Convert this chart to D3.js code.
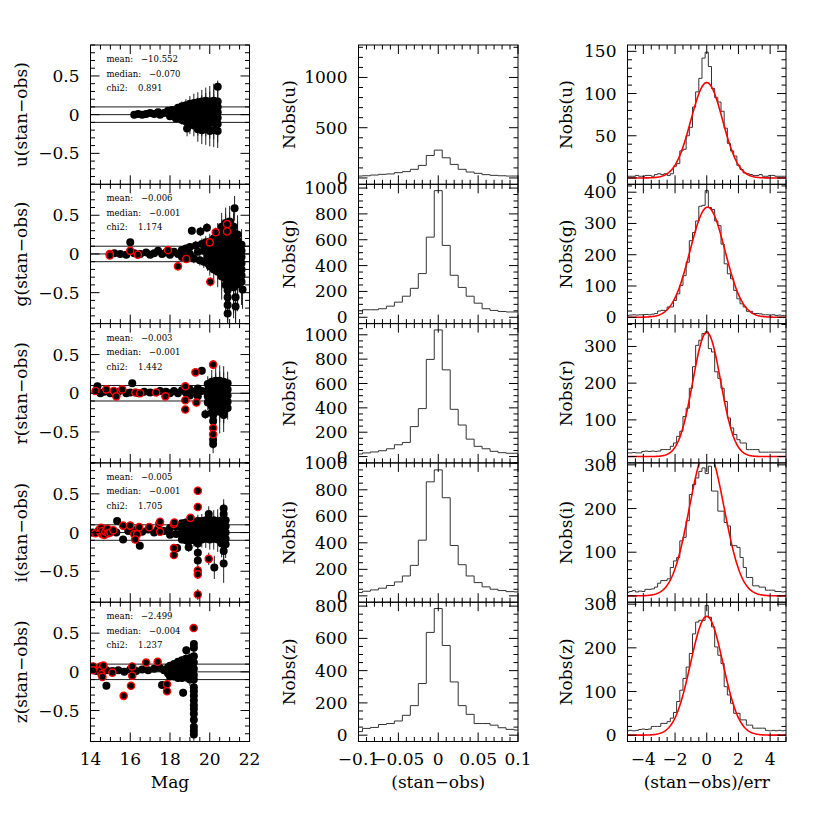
<!DOCTYPE html>
<html><head><meta charset="utf-8">
<script src="https://cdn.jsdelivr.net/npm/d3@7"></script>
<style>body{margin:0;background:#fff}svg{display:block}</style>
</head><body><svg id="c" width="830" height="830"></svg>
<script>
// ---------------- data ----------------
const bands = ["u","g","r","i","z"];
const statMean   = ["−10.552","−0.006","−0.003","−0.005","−2.499"];
const statMedian = ["−0.070","−0.001","−0.001","−0.001","−0.004"];
const statChi2   = ["0.891","1.174","1.442","1.705","1.237"];

// left column: [mag, stan-obs, err]
const uPts = [[16.2,0,0.01],[16.4,0.01,0.01],[16.6,0,0.01],[16.8,0.01,0.01],[17.0,0.02,0.01],[17.2,0.01,0.015],[17.4,0.03,0.015],[17.5,0,0.02],[17.7,0.02,0.02],[17.9,0.05,0.02],[18.0,-0.02,0.03],[18.1,0.06,0.03],[18.2,0.01,0.03],[18.3,-0.05,0.04],[18.4,0.09,0.04],[18.5,0.02,0.05],[18.6,-0.07,0.06],[18.6,0.11,0.06],[18.7,0.03,0.06],[18.86,-0.18,0.1],
[18.8,0.12,0.08],[18.8,0.05,0.08],[18.8,-0.03,0.08],[18.8,-0.09,0.1],
[19.0,0.14,0.1],[19.0,0.07,0.1],[19.0,0,0.1],[19.0,-0.07,0.1],[19.0,-0.13,0.12],
[19.2,0.15,0.12],[19.2,0.08,0.12],[19.2,0.01,0.12],[19.2,-0.06,0.12],[19.2,-0.14,0.14],
[19.4,0.16,0.13],[19.4,0.09,0.13],[19.4,0.02,0.13],[19.4,-0.05,0.13],[19.4,-0.12,0.15],[19.4,-0.19,0.16],
[19.6,0.17,0.15],[19.6,0.1,0.15],[19.6,0.03,0.15],[19.6,-0.04,0.15],[19.6,-0.11,0.17],[19.6,-0.2,0.18],
[19.8,0.18,0.17],[19.8,0.11,0.17],[19.8,0.04,0.17],[19.8,-0.03,0.17],[19.8,-0.1,0.18],[19.8,-0.19,0.2],
[20.0,0.17,0.2],[20.0,0.1,0.2],[20.0,0.03,0.2],[20.0,-0.04,0.2],[20.0,-0.11,0.2],[20.0,-0.21,0.2],
[20.2,0.18,0.22],[20.2,0.11,0.22],[20.2,0.04,0.22],[20.2,-0.03,0.22],[20.2,-0.1,0.22],[20.2,-0.2,0.22],
[20.4,0.36,0.08],[20.4,0.17,0.25],[20.4,0.1,0.24],[20.4,0.03,0.24],[20.4,-0.04,0.24],[20.4,-0.12,0.24],[20.4,-0.21,0.22]];
const uRed = [];

const gPts = [[15.2,0.01,0.01],[15.5,0,0.01],[15.8,-0.01,0.01],[16.0,0.15,0.02],[16.2,0.01,0.01],[16.5,0,0.01],[16.8,0.02,0.01],[17.0,-0.01,0.015],[17.2,0.01,0.015],[17.4,0.04,0.02],[17.6,0,0.02],[17.8,0.02,0.02],[18.0,-0.01,0.02],[18.2,0.03,0.02],[18.4,0,0.03],[18.6,0.05,0.03],[18.6,-0.04,0.03],[18.8,0.07,0.04],[18.8,-0.03,0.04],[19.0,0.09,0.05],[19.0,0,0.05],[19.1,0.3,0.05],[19.2,-0.06,0.06],[19.3,0.11,0.06],[19.4,0.03,0.06],[19.53,0.29,0.06],[19.5,-0.08,0.07],[19.6,0.13,0.07],[19.7,0.04,0.07],[19.7,-0.1,0.08],[19.86,0.34,0.06],[19.8,0.15,0.08],[19.9,0.06,0.08],[19.9,-0.04,0.09],[19.9,-0.12,0.1],
[20.0,0.16,0.1],[20.0,0.08,0.1],[20.0,0,0.1],[20.0,-0.08,0.1],[20.0,-0.16,0.12],
[20.2,0.2,0.12],[20.2,0.12,0.12],[20.2,0.04,0.12],[20.2,-0.04,0.12],[20.2,-0.12,0.14],[20.2,-0.2,0.15],
[20.4,0.25,0.15],[20.4,0.17,0.15],[20.4,0.09,0.15],[20.4,0.01,0.15],[20.4,-0.07,0.15],[20.4,-0.15,0.18],[20.4,-0.23,0.2],
[20.6,0.35,0.18],[20.6,0.27,0.18],[20.6,0.19,0.18],[20.6,0.11,0.18],[20.6,0.03,0.18],[20.6,-0.05,0.2],[20.6,-0.13,0.2],[20.6,-0.21,0.25],[20.6,-0.29,0.3],
[20.8,0.4,0.2],[20.8,0.32,0.2],[20.8,0.24,0.2],[20.8,0.16,0.2],[20.8,0.08,0.2],[20.8,0,0.22],[20.8,-0.08,0.25],[20.8,-0.16,0.25],[20.8,-0.24,0.3],[20.8,-0.32,0.3],[20.8,-0.4,0.35],
[21.0,0.42,0.2],[21.0,0.34,0.2],[21.0,0.26,0.2],[21.0,0.18,0.2],[21.0,0.1,0.22],[21.0,0.02,0.22],[21.0,-0.06,0.25],[21.0,-0.14,0.28],[21.0,-0.22,0.3],[21.0,-0.3,0.35],[21.0,-0.38,0.4],
[21.2,0.35,0.25],[21.2,0.27,0.25],[21.2,0.19,0.25],[21.2,0.11,0.25],[21.2,0.03,0.25],[21.2,-0.05,0.28],[21.2,-0.13,0.3],[21.2,-0.21,0.3],[21.2,-0.29,0.35],[21.2,-0.37,0.4],[21.2,-0.43,0.4],
[21.4,0.25,0.25],[21.4,0.17,0.25],[21.4,0.09,0.25],[21.4,0.01,0.25],[21.4,-0.07,0.28],[21.4,-0.15,0.3],[21.4,-0.23,0.3],[21.4,-0.31,0.35],[21.4,-0.39,0.35],
[21.6,0.12,0.2],[21.6,0.04,0.2],[21.6,-0.04,0.2],[21.6,-0.12,0.22],[21.6,-0.2,0.25],[21.6,-0.28,0.25],[21.6,-0.36,0.3],
[20.9,-0.47,0.3],[20.9,-0.56,0.3],[20.9,-0.66,0.3],[20.9,-0.77,0.3],[21.25,0.59,0.16],[21.3,-0.56,0.35],[21.3,-0.68,0.35],[21.65,-0.46,0.25]];
const gRed = [[14.97,0,0.01],[14.97,-0.02,0.01],[16.0,0.04,0.01],[16.38,-0.01,0.01],[17.9,0.05,0.02],[18.4,-0.16,0.03],[18.82,-0.065,0.03],[20.0,0.15,0.05],[20.03,-0.36,0.06],[20.3,0.28,0.06],[20.87,0.386,0.08],[20.87,0.29,0.08]];

const rPts = [[14.35,0.09,0.01],[14.5,0,0.01],[14.7,0.02,0.01],[15.0,0,0.01],[15.4,0.02,0.01],[15.8,0,0.01],[16.1,0.13,0.015],[16.0,0.01,0.01],[16.4,0,0.01],[16.7,0.02,0.01],[17.0,0.01,0.015],[17.5,0.03,0.015],[17.8,0.02,0.02],[18.0,0,0.02],[18.2,0.03,0.02],[18.4,0,0.02],[18.6,0.04,0.03],[18.8,0.01,0.03],[19.0,0.05,0.03],[19.0,-0.03,0.03],[19.2,0.02,0.04],[19.4,0.06,0.04],[19.4,-0.04,0.04],[19.6,0.29,0.05],[19.6,0.03,0.05],[19.78,-0.27,0.06],
[19.9,0.12,0.1],[19.9,0.04,0.1],[19.9,-0.04,0.1],[19.9,-0.12,0.1],
[20.1,0.15,0.15],[20.1,0.07,0.15],[20.1,-0.01,0.15],[20.1,-0.09,0.15],[20.1,-0.17,0.18],[20.1,-0.25,0.2],
[20.3,0.16,0.18],[20.3,0.08,0.18],[20.3,0,0.18],[20.3,-0.08,0.18],[20.3,-0.16,0.2],[20.3,-0.24,0.25],
[20.5,0.16,0.2],[20.5,0.08,0.2],[20.5,0,0.2],[20.5,-0.08,0.2],[20.5,-0.16,0.22],[20.5,-0.24,0.28],
[20.7,0.15,0.2],[20.7,0.07,0.2],[20.7,-0.01,0.2],[20.7,-0.09,0.2],[20.7,-0.17,0.22],[20.7,-0.25,0.25],
[20.9,0.13,0.15],[20.9,0.05,0.15],[20.9,-0.03,0.15],[20.9,-0.11,0.15],[20.9,-0.19,0.15],
[20.17,-0.28,0.1],[20.17,-0.36,0.1],[20.17,-0.6,0.12],[20.17,-0.655,0.12],[20.7,-0.28,0.1]];
const rRed = [[14.25,0.03,0.01],[14.8,0.05,0.01],[15.17,0.03,0.01],[15.3,-0.04,0.01],[15.6,0.05,0.01],[16.26,0.01,0.01],[16.5,0,0.01],[17.3,0.01,0.015],[17.77,-0.04,0.02],[18.77,0.09,0.03],[18.77,-0.09,0.03],[18.77,-0.21,0.03],[19.28,0.27,0.04],[19.33,-0.12,0.04],[20.17,0.37,0.06],[20.17,-0.45,0.08],[20.17,-0.53,0.08]];

const iPts = [[14.1,0,0.01],[14.4,0.02,0.01],[14.7,-0.01,0.01],[15.0,0.01,0.01],[15.34,0.15,0.01],[15.3,0,0.01],[15.64,-0.09,0.01],[15.9,0.02,0.01],[16.2,0.03,0.01],[16.48,-0.17,0.015],[16.6,0.01,0.01],[16.9,0.04,0.015],[17.2,0,0.015],[17.4,0.05,0.015],[17.7,0.02,0.02],[18.0,0.06,0.02],[18.0,-0.03,0.02],[18.3,0.08,0.02],[18.3,-0.02,0.02],[18.36,-0.2,0.03],
[18.6,0.12,0.04],[18.6,0.04,0.04],[18.6,-0.04,0.04],[18.6,-0.09,0.05],
[18.8,0.13,0.05],[18.8,0.05,0.05],[18.8,-0.03,0.05],[18.8,-0.1,0.06],[18.94,-0.19,0.06],
[19.0,0.14,0.06],[19.0,0.06,0.06],[19.0,-0.02,0.06],[19.0,-0.1,0.07],
[19.2,0.14,0.07],[19.2,0.06,0.07],[19.2,-0.02,0.07],[19.2,-0.1,0.08],
[19.4,0.15,0.08],[19.4,0.07,0.08],[19.4,-0.01,0.08],[19.4,-0.09,0.09],[19.4,-0.14,0.1],[19.4,-0.26,0.12],[19.4,-0.36,0.12],
[19.6,0.15,0.09],[19.6,0.07,0.09],[19.6,-0.01,0.09],[19.6,-0.09,0.1],
[19.8,0.16,0.1],[19.8,0.08,0.1],[19.8,0,0.1],[19.8,-0.08,0.12],[19.95,0.24,0.1],
[20.0,0.15,0.12],[20.0,0.07,0.12],[20.0,-0.01,0.12],[20.0,-0.09,0.13],
[20.2,0.16,0.13],[20.2,0.08,0.13],[20.2,0,0.13],[20.2,-0.08,0.14],[20.23,-0.45,0.15],
[20.4,0.15,0.15],[20.4,0.07,0.15],[20.4,-0.01,0.15],[20.4,-0.09,0.16],
[20.6,0.16,0.16],[20.6,0.08,0.16],[20.6,0,0.16],[20.6,-0.08,0.17],[20.6,-0.14,0.18],
[20.7,0.31,0.12],[20.7,0.24,0.14],[20.7,-0.24,0.2],[20.7,-0.4,0.25],
[20.8,0.16,0.16],[20.8,0.08,0.16],[20.8,0,0.16],[20.8,-0.08,0.17],[20.8,-0.15,0.18]];
const iRed = [[14.25,-0.01,0.01],[14.45,0.04,0.01],[14.5,0,0.01],[14.54,0.06,0.01],[14.6,-0.02,0.01],[14.6,0.02,0.01],[14.7,-0.03,0.01],[14.75,0.01,0.01],[14.85,0.05,0.01],[14.9,-0.01,0.01],[15.0,0,0.01],[15.15,0.03,0.01],[15.64,0.09,0.01],[16.0,0.09,0.01],[16.2,-0.02,0.01],[16.35,-0.02,0.01],[16.25,-0.09,0.01],[16.45,0.07,0.01],[16.96,0.07,0.015],[17.45,0.11,0.015],[17.5,0.14,0.015],[17.5,0.01,0.015],[18.19,0.11,0.02],[18.22,0.13,0.02],[18.2,-0.2,0.02],[18.2,-0.29,0.02],[19.03,0.19,0.04],[19.4,0.54,0.05],[19.4,0.33,0.05],[19.4,-0.49,0.06],[19.4,-0.54,0.06],[19.4,-0.8,0.07],[19.95,-0.34,0.08]];

const zPts = [[14.1,0.03,0.01],[14.3,0.01,0.01],[14.5,0,0.01],[14.8,-0.18,0.02],[14.8,0.02,0.01],[15.1,0.01,0.01],[15.4,0.02,0.01],[15.7,0,0.01],[16.0,0.03,0.01],[16.3,0.01,0.01],[16.6,0.03,0.015],[16.9,0.02,0.015],[17.2,0.04,0.015],[17.5,0.05,0.02],[17.6,-0.17,0.03],[17.7,0.02,0.02],[17.9,0.06,0.02],[17.9,-0.02,0.02],
[18.0,0.08,0.03],[18.0,0,0.03],[18.0,-0.06,0.03],
[18.2,0.1,0.03],[18.2,0.02,0.03],[18.2,-0.06,0.04],
[18.4,0.13,0.04],[18.4,0.05,0.04],[18.4,-0.03,0.04],[18.4,-0.08,0.05],
[18.6,0.15,0.05],[18.6,0.07,0.05],[18.6,-0.01,0.05],[18.6,-0.08,0.05],[18.66,-0.27,0.05],
[18.8,0.17,0.06],[18.8,0.09,0.06],[18.8,0.01,0.06],[18.8,-0.07,0.06],[18.82,0.28,0.05],
[19.0,0.18,0.07],[19.0,0.1,0.07],[19.0,0.02,0.07],[19.0,-0.06,0.07],[19.0,-0.1,0.08],
[19.2,0.2,0.08],[19.2,0.12,0.08],[19.2,0.04,0.08],[19.2,-0.04,0.08],[19.2,-0.1,0.08],
[19.2,0.36,0.05],[19.2,0.31,0.05],[19.2,-0.2,0.06],[19.2,-0.25,0.06],[19.2,-0.31,0.06],[19.2,-0.37,0.06],[19.2,-0.43,0.06],[19.2,-0.48,0.06],[19.2,-0.54,0.06],[19.2,-0.62,0.07],[19.2,-0.71,0.07],[19.2,-0.76,0.07],[19.2,-0.81,0.08]];
const zRed = [[14.13,0.07,0.01],[14.13,0.02,0.01],[14.5,0.07,0.01],[14.5,0.02,0.01],[14.55,-0.03,0.01],[14.6,-0.065,0.01],[14.65,0.08,0.01],[15.1,-0.01,0.01],[16.1,0.07,0.01],[16.1,-0.05,0.01],[15.67,-0.31,0.02],[16.04,-0.18,0.02],[16.8,0.12,0.015],[17.38,0.13,0.02],[17.85,-0.16,0.02],[17.85,-0.25,0.02],[19.19,0.566,0.04]];

const leftPts = [uPts,gPts,rPts,iPts,zPts];
const leftRed = [uRed,gRed,rRed,iRed,zRed];
const refLines = [0, 0.1, -0.1];

// middle column histograms of (stan-obs), bin width 0.01
const midBins = [-0.1,-0.09,-0.08,-0.07,-0.06,-0.05,-0.04,-0.03,-0.02,-0.01,0,0.01,0.02,0.03,0.04,0.05,0.06,0.07,0.08,0.09,0.1];
const uMid = [19,22,29,36,40,53,63,86,125,224,277,201,135,86,59,46,33,26,22,19,19];
const gMid = [28,58,58,66,86,117,163,224,338,620,980,556,325,231,163,109,66,53,45,41,41];
const rMid = [21,30,38,48,64,97,116,246,394,798,1040,712,388,259,143,84,64,43,32,27,27];
const iMid = [25,35,45,58,78,105,150,230,420,860,950,740,380,235,150,100,68,50,40,32,30];
const zMid = [22,42,48,66,72,88,123,183,320,637,785,556,330,183,129,72,72,62,46,36,32];
const midCounts = [uMid,gMid,rMid,iMid,zMid];
const midMax = [1260,980,1040,955,785];

// right column histograms of (stan-obs)/err, bin width 0.2
const rightBins = [-5,-4.8,-4.6,-4.4,-4.2,-4,-3.8,-3.6,-3.4,-3.2,-3,-2.8,-2.6,-2.4,-2.2,-2,-1.8,-1.6,-1.4,-1.2,-1,-0.8,-0.6,-0.4,-0.2,0,0.2,0.4,0.6,0.8,1,1.2,1.4,1.6,1.8,2,2.2,2.4,2.6,2.8,3,3.2,3.4,3.6,3.8,4,4.2,4.4,4.6,4.8,5];
const uRight = [2,2,2,3,2,2,3,3,2,4,5,4,5,3,5,14,17,32,34,50,60,84,102,118,142,149,132,106,95,90,79,59,41,32,26,15,10,6,5,4,3,3,4,2,2,3,3,2,2,2,2];
const gRight = [6,7,8,7,8,8,9,8,10,12,20,22,22,33,33,54,75,102,133,176,245,271,308,355,358,405,351,345,308,293,234,171,139,123,86,59,43,33,19,19,12,12,11,8,8,7,8,6,7,6,6];
const rRight = [10,10,11,10,10,14,15,14,15,14,15,19,19,19,28,37,55,69,109,132,186,245,303,317,335,340,294,285,231,213,186,150,105,78,60,46,37,37,19,19,19,19,12,12,12,12,12,12,12,12,12];
const iRight = [8,10,12,9,11,10,15,15,16,20,29,35,35,39,65,80,88,126,134,172,232,255,270,285,293,280,297,240,240,194,194,168,160,115,115,111,88,65,42,42,23,23,20,20,13,13,13,10,10,9,10];
const zRight = [10,11,10,11,13,14,13,14,20,20,20,27,27,31,39,52,77,103,130,156,187,232,259,263,263,297,270,248,202,183,164,111,92,73,50,50,35,35,23,23,16,16,16,16,11,10,11,10,11,10,11];
const rightCounts = [uRight,gRight,rRight,iRight,zRight];
const rightMax = [150,405,345,290,290];
// Gaussian fits
const fitAmp = [113,352,338,335,272];
const fitMu = [0,0.05,0,0,0];
const fitSigma = [1.0,1.1,0.88,1.09,1.02];

const leftTicks = ["−0.5","0","0.5"]; const leftTickVals = [-0.5,0,0.5];
const magTicks = [14,16,18,20,22];
const midXTicks = [-0.1,-0.05,0,0.05,0.1]; const midXLabels = ["−0.1","−0.05","0","0.05","0.1"];
const rightXTicks = [-4,-2,0,2,4]; const rightXLabels = ["−4","−2","0","2","4"];
const xTitles = ["Mag","(stan−obs)","(stan−obs)/err"];

// ---------------- drawing ----------------
const svg = d3.select("#c");
const FONT = "DejaVu Serif";
const colX = [[90.5,249.5],[358.5,518],[627.5,786]];
const TOP = 45, PH = 139.3;
const MAJ = 9, MIN = 4.5;
const fmtNum = v => (v < 0 ? "−" : "") + Math.abs(v);

function stepVals(dom, step){
  const out=[]; const a=Math.min(dom[0],dom[1]), b=Math.max(dom[0],dom[1]);
  for(let k=Math.ceil(a/step-1e-9); k*step<=b+1e-9; k++) out.push(+(k*step).toFixed(6));
  return out;
}
function isMult(v, step){ const q=v/step; return Math.abs(q-Math.round(q))<1e-6; }

function axesFrame(g, xs, ys, xMaj, xMin, yMaj, yMin){
  const [x0,x1]=xs.range(), [yb,yt]=ys.range();
  let p = d3.path();
  stepVals(xs.domain(), xMin).forEach(v=>{
    const x=xs(v), L=isMult(v,xMaj)?MAJ:MIN;
    if (x<x0-0.1||x>x1+0.1) return;
    p.moveTo(x,yb); p.lineTo(x,yb-L); p.moveTo(x,yt); p.lineTo(x,yt+L);
  });
  stepVals(ys.domain(), yMin).forEach(v=>{
    const y=ys(v), L=isMult(v,yMaj)?MAJ:MIN;
    p.moveTo(x0,y); p.lineTo(x0+L,y); p.moveTo(x1,y); p.lineTo(x1-L,y);
  });
  g.append("path").attr("d",p.toString()).attr("stroke","#000").attr("stroke-width",1).attr("fill","none");
  g.append("rect").attr("x",x0).attr("y",yt).attr("width",x1-x0).attr("height",yb-yt)
    .attr("fill","none").attr("stroke","#000").attr("stroke-width",1);
}
function yLabels(g, ys, x0, vals, labels){
  vals.forEach((v,k)=>{
    g.append("text").attr("x",x0-11).attr("y",ys(v)).attr("text-anchor","end")
      .attr("dominant-baseline","central").attr("font-family",FONT).attr("font-size",17)
      .text(labels ? labels[k] : fmtNum(v));
  });
}
function yTitle(g, text, x, yc){
  g.append("text").attr("transform",`translate(${x},${yc}) rotate(-90)`).attr("text-anchor","middle")
    .attr("dominant-baseline","central").attr("font-family",FONT).attr("font-size",17).text(text);
}
function clip(id, x0,x1,y0,y1){
  svg.append("clipPath").attr("id",id).append("rect").attr("x",x0).attr("y",y0).attr("width",x1-x0).attr("height",y1-y0);
  return `url(#${id})`;
}
function stepPath(xs, ys, centers, counts, w){
  const [d0,d1]=xs.domain(); const p=d3.path(); let first=true;
  centers.forEach((c,k)=>{
    const l=Math.max(c-w/2,d0), r=Math.min(c+w/2,d1), y=ys(counts[k]);
    if(first){p.moveTo(xs(l),y); first=false;} else p.lineTo(xs(l),y);
    p.lineTo(xs(r),y);
  });
  return p.toString();
}

bands.forEach((b,i)=>{
  const y0 = TOP + i*PH, y1 = y0 + PH, yc = (y0+y1)/2;
  const last = i===bands.length-1;

  // ---- left: residual vs magnitude
  {
    const [x0,x1]=colX[0];
    const xs=d3.scaleLinear().domain([14,22]).range([x0,x1]);
    const ys=d3.scaleLinear().domain([-0.9,0.9]).range([y1,y0]);
    const g=svg.append("g");
    const cp=clip("cl"+i,x0,x1,y0,y1);
    const inner=g.append("g").attr("clip-path",cp);
    refLines.forEach(v=>inner.append("line").attr("x1",x0).attr("x2",x1).attr("y1",ys(v)).attr("y2",ys(v)).attr("stroke","#000").attr("stroke-width",0.9));
    const all = leftPts[i].concat(leftRed[i]);
    inner.selectAll(null).data(all).enter().append("line")
      .attr("x1",d=>xs(d[0])).attr("x2",d=>xs(d[0])).attr("y1",d=>ys(d[1]-d[2])).attr("y2",d=>ys(d[1]+d[2]))
      .attr("stroke","#222").attr("stroke-width",1);
    inner.selectAll(null).data(leftPts[i]).enter().append("circle")
      .attr("cx",d=>xs(d[0])).attr("cy",d=>ys(d[1])).attr("r",4).attr("fill","#000");
    inner.selectAll(null).data(leftRed[i]).enter().append("circle")
      .attr("cx",d=>xs(d[0])).attr("cy",d=>ys(d[1])).attr("r",3.6).attr("fill","#000").attr("stroke","#f00").attr("stroke-width",1.4);
    axesFrame(g,xs,ys,2,0.5,0.5,0.1);
    yLabels(g,ys,x0,leftTickVals,leftTicks);
    yTitle(g,`${b}(stan−obs)`,x0-70,yc);
    const st=[["mean:",statMean[i],34.5],["median:",statMedian[i],42.5],["chi2:",statChi2[i],31.5]];
    st.forEach((s,k)=>{
      const ty=y0+14+k*14.5;
      g.append("text").attr("x",x0+16).attr("y",ty).attr("dominant-baseline","central")
        .attr("font-family",FONT).attr("font-size",8.5).text(s[0]);
      g.append("text").attr("x",x0+16+s[2]).attr("y",ty).attr("dominant-baseline","central")
        .attr("font-family",FONT).attr("font-size",8.5).text(s[1]);
    });
    if(last){
      magTicks.forEach(v=>g.append("text").attr("x",xs(v)).attr("y",y1+17).attr("text-anchor","middle")
        .attr("dominant-baseline","central").attr("font-family",FONT).attr("font-size",17).text(v));
      g.append("text").attr("x",(x0+x1)/2).attr("y",y1+40).attr("text-anchor","middle")
        .attr("dominant-baseline","central").attr("font-family",FONT).attr("font-size",17).text(xTitles[0]);
    }
  }

  // ---- middle: histogram of stan-obs
  {
    const [x0,x1]=colX[1];
    const M=midMax[i];
    const xs=d3.scaleLinear().domain([-0.1,0.1]).range([x0,x1]);
    const ys=d3.scaleLinear().domain([-0.05*M,1.05*M]).range([y1,y0]);
    const g=svg.append("g");
    const cp=clip("cm"+i,x0,x1,y0,y1);
    g.append("path").attr("clip-path",cp).attr("d",stepPath(xs,ys,midBins,midCounts[i],0.01))
      .attr("fill","none").attr("stroke","#333").attr("stroke-width",1);
    const yMaj = i===0?500:200, yMin = i===0?100:50;
    axesFrame(g,xs,ys,0.05,0.01,yMaj,yMin);
    yLabels(g,ys,x0,stepVals(ys.domain(),yMaj));
    yTitle(g,`Nobs(${b})`,x0-70,yc);
    if(last){
      midXTicks.forEach((v,k)=>g.append("text").attr("x",xs(v)).attr("y",y1+17).attr("text-anchor","middle")
        .attr("dominant-baseline","central").attr("font-family",FONT).attr("font-size",17).text(midXLabels[k]));
      g.append("text").attr("x",(x0+x1)/2).attr("y",y1+40).attr("text-anchor","middle")
        .attr("dominant-baseline","central").attr("font-family",FONT).attr("font-size",17).text(xTitles[1]);
    }
  }

  // ---- right: histogram of (stan-obs)/err with Gaussian fit
  {
    const [x0,x1]=colX[2];
    const M=rightMax[i];
    const xs=d3.scaleLinear().domain([-5,5]).range([x0,x1]);
    const ys=d3.scaleLinear().domain([-0.05*M,1.05*M]).range([y1,y0]);
    const g=svg.append("g");
    const cp=clip("cr"+i,x0,x1,y0,y1);
    g.append("path").attr("clip-path",cp).attr("d",stepPath(xs,ys,rightBins,rightCounts[i],0.2))
      .attr("fill","none").attr("stroke","#333").attr("stroke-width",1);
    const gx=d3.range(-5,5.0001,0.05);
    const line=d3.line().x(v=>xs(v)).y(v=>ys(fitAmp[i]*Math.exp(-Math.pow(v-fitMu[i],2)/(2*fitSigma[i]*fitSigma[i])))).curve(d3.curveLinear);
    g.append("path").attr("clip-path",cp).attr("d",line(gx)).attr("fill","none").attr("stroke","#f00").attr("stroke-width",1.6);
    const yMaj = i===0?50:100, yMin = i===0?10:20;
    axesFrame(g,xs,ys,2,0.5,yMaj,yMin);
    yLabels(g,ys,x0,stepVals(ys.domain(),yMaj).filter(v=>v>=0));
    yTitle(g,`Nobs(${b})`,x0-62,yc);
    if(last){
      rightXTicks.forEach((v,k)=>g.append("text").attr("x",xs(v)).attr("y",y1+17).attr("text-anchor","middle")
        .attr("dominant-baseline","central").attr("font-family",FONT).attr("font-size",17).text(rightXLabels[k]));
      g.append("text").attr("x",(x0+x1)/2).attr("y",y1+40).attr("text-anchor","middle")
        .attr("dominant-baseline","central").attr("font-family",FONT).attr("font-size",17).text(xTitles[2]);
    }
  }
});
</script>
</body></html>
